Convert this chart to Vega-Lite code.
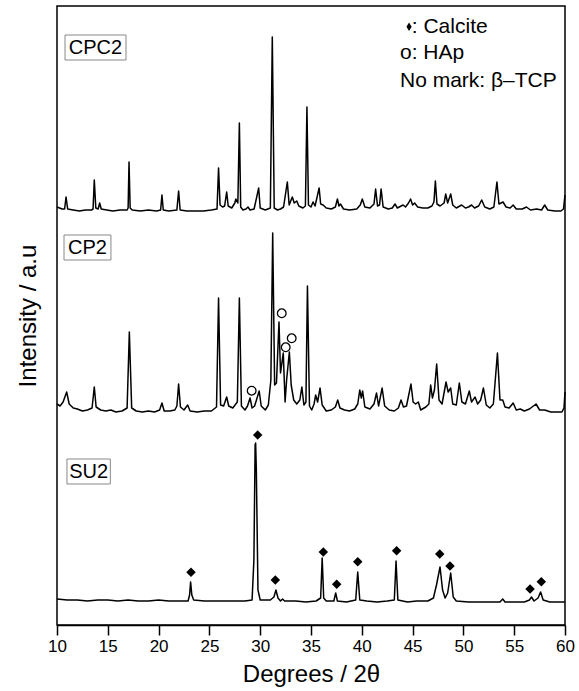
{
  "$schema": "https://vega.github.io/schema/vega-lite/v6.json",
  "width": 508,
  "height": 619,
  "autosize": "none",
  "padding": {"left": 57, "top": 6, "right": 14, "bottom": 66},
  "background": "white",
  "datasets": {
    "traces": [
      {"s":"CPC2","x":10.0,"y":418},{"s":"CPC2","x":10.5,"y":416},{"s":"CPC2","x":10.75,"y":416},{"s":"CPC2","x":10.89,"y":428},{"s":"CPC2","x":11.05,"y":416},{"s":"CPC2","x":11.6,"y":415},{"s":"CPC2","x":12.2,"y":414},{"s":"CPC2","x":12.8,"y":415},{"s":"CPC2","x":13.4,"y":415},{"s":"CPC2","x":13.55,"y":416},{"s":"CPC2","x":13.67,"y":445},{"s":"CPC2","x":13.82,"y":417},{"s":"CPC2","x":14.05,"y":416},{"s":"CPC2","x":14.2,"y":422},{"s":"CPC2","x":14.35,"y":416},{"s":"CPC2","x":14.9,"y":415},{"s":"CPC2","x":15.5,"y":414},{"s":"CPC2","x":16.2,"y":415},{"s":"CPC2","x":16.9,"y":415},{"s":"CPC2","x":17.0,"y":417},{"s":"CPC2","x":17.09,"y":463},{"s":"CPC2","x":17.2,"y":417},{"s":"CPC2","x":17.4,"y":415},{"s":"CPC2","x":18.2,"y":414},{"s":"CPC2","x":19.0,"y":415},{"s":"CPC2","x":19.8,"y":414},{"s":"CPC2","x":20.2,"y":415},{"s":"CPC2","x":20.33,"y":430},{"s":"CPC2","x":20.46,"y":415},{"s":"CPC2","x":21.0,"y":414},{"s":"CPC2","x":21.8,"y":415},{"s":"CPC2","x":21.97,"y":434},{"s":"CPC2","x":22.12,"y":415},{"s":"CPC2","x":22.8,"y":414},{"s":"CPC2","x":23.6,"y":414},{"s":"CPC2","x":24.4,"y":414},{"s":"CPC2","x":25.2,"y":415},{"s":"CPC2","x":25.75,"y":416},{"s":"CPC2","x":25.9,"y":457},{"s":"CPC2","x":26.05,"y":420},{"s":"CPC2","x":26.3,"y":418},{"s":"CPC2","x":26.5,"y":419},{"s":"CPC2","x":26.7,"y":433},{"s":"CPC2","x":26.85,"y":419},{"s":"CPC2","x":27.2,"y":417},{"s":"CPC2","x":27.5,"y":422},{"s":"CPC2","x":27.6,"y":426},{"s":"CPC2","x":27.8,"y":422},{"s":"CPC2","x":27.95,"y":502},{"s":"CPC2","x":28.08,"y":418},{"s":"CPC2","x":28.3,"y":415},{"s":"CPC2","x":28.6,"y":416},{"s":"CPC2","x":28.8,"y":418},{"s":"CPC2","x":29.0,"y":415},{"s":"CPC2","x":29.4,"y":416},{"s":"CPC2","x":29.85,"y":437},{"s":"CPC2","x":30.0,"y":417},{"s":"CPC2","x":30.5,"y":415},{"s":"CPC2","x":31.0,"y":417},{"s":"CPC2","x":31.19,"y":588},{"s":"CPC2","x":31.38,"y":417},{"s":"CPC2","x":31.7,"y":415},{"s":"CPC2","x":32.0,"y":416},{"s":"CPC2","x":32.3,"y":418},{"s":"CPC2","x":32.67,"y":443},{"s":"CPC2","x":32.85,"y":420},{"s":"CPC2","x":33.16,"y":428},{"s":"CPC2","x":33.35,"y":422},{"s":"CPC2","x":33.6,"y":424},{"s":"CPC2","x":33.8,"y":419},{"s":"CPC2","x":34.2,"y":417},{"s":"CPC2","x":34.45,"y":419},{"s":"CPC2","x":34.6,"y":518},{"s":"CPC2","x":34.75,"y":420},{"s":"CPC2","x":35.0,"y":418},{"s":"CPC2","x":35.2,"y":423},{"s":"CPC2","x":35.4,"y":419},{"s":"CPC2","x":35.8,"y":437},{"s":"CPC2","x":35.95,"y":421},{"s":"CPC2","x":36.2,"y":420},{"s":"CPC2","x":36.5,"y":417},{"s":"CPC2","x":37.0,"y":416},{"s":"CPC2","x":37.4,"y":418},{"s":"CPC2","x":37.6,"y":426},{"s":"CPC2","x":37.75,"y":419},{"s":"CPC2","x":37.9,"y":421},{"s":"CPC2","x":38.2,"y":416},{"s":"CPC2","x":38.8,"y":415},{"s":"CPC2","x":39.5,"y":416},{"s":"CPC2","x":39.85,"y":420},{"s":"CPC2","x":40.05,"y":426},{"s":"CPC2","x":40.3,"y":418},{"s":"CPC2","x":40.8,"y":417},{"s":"CPC2","x":41.2,"y":421},{"s":"CPC2","x":41.36,"y":436},{"s":"CPC2","x":41.55,"y":419},{"s":"CPC2","x":41.75,"y":420},{"s":"CPC2","x":41.9,"y":436},{"s":"CPC2","x":42.1,"y":418},{"s":"CPC2","x":42.6,"y":416},{"s":"CPC2","x":43.0,"y":417},{"s":"CPC2","x":43.27,"y":421},{"s":"CPC2","x":43.5,"y":417},{"s":"CPC2","x":44.06,"y":420},{"s":"CPC2","x":44.3,"y":418},{"s":"CPC2","x":44.6,"y":422},{"s":"CPC2","x":44.8,"y":426},{"s":"CPC2","x":45.0,"y":420},{"s":"CPC2","x":45.2,"y":422},{"s":"CPC2","x":45.5,"y":418},{"s":"CPC2","x":46.0,"y":417},{"s":"CPC2","x":46.5,"y":417},{"s":"CPC2","x":46.9,"y":419},{"s":"CPC2","x":47.1,"y":423},{"s":"CPC2","x":47.24,"y":444},{"s":"CPC2","x":47.4,"y":421},{"s":"CPC2","x":47.7,"y":419},{"s":"CPC2","x":48.1,"y":422},{"s":"CPC2","x":48.26,"y":431},{"s":"CPC2","x":48.45,"y":422},{"s":"CPC2","x":48.75,"y":431},{"s":"CPC2","x":48.95,"y":420},{"s":"CPC2","x":49.3,"y":417},{"s":"CPC2","x":49.83,"y":420},{"s":"CPC2","x":50.2,"y":417},{"s":"CPC2","x":50.5,"y":418},{"s":"CPC2","x":50.8,"y":420},{"s":"CPC2","x":51.1,"y":417},{"s":"CPC2","x":51.5,"y":419},{"s":"CPC2","x":51.8,"y":425},{"s":"CPC2","x":52.1,"y":418},{"s":"CPC2","x":52.6,"y":416},{"s":"CPC2","x":53.0,"y":418},{"s":"CPC2","x":53.3,"y":443},{"s":"CPC2","x":53.5,"y":421},{"s":"CPC2","x":53.9,"y":423},{"s":"CPC2","x":54.2,"y":418},{"s":"CPC2","x":54.6,"y":417},{"s":"CPC2","x":54.9,"y":420},{"s":"CPC2","x":55.2,"y":416},{"s":"CPC2","x":55.8,"y":416},{"s":"CPC2","x":56.2,"y":418},{"s":"CPC2","x":56.6,"y":415},{"s":"CPC2","x":57.2,"y":416},{"s":"CPC2","x":57.7,"y":415},{"s":"CPC2","x":58.0,"y":420},{"s":"CPC2","x":58.3,"y":415},{"s":"CPC2","x":59.0,"y":414},{"s":"CPC2","x":59.6,"y":414},{"s":"CPC2","x":59.85,"y":416},{"s":"CPC2","x":60.0,"y":430},
      {"s":"CP2","x":10.0,"y":221},{"s":"CP2","x":10.3,"y":219},{"s":"CP2","x":10.6,"y":223},{"s":"CP2","x":10.95,"y":233},{"s":"CP2","x":11.2,"y":221},{"s":"CP2","x":11.6,"y":217},{"s":"CP2","x":12.0,"y":216},{"s":"CP2","x":12.5,"y":214},{"s":"CP2","x":13.0,"y":215},{"s":"CP2","x":13.45,"y":217},{"s":"CP2","x":13.67,"y":238},{"s":"CP2","x":13.85,"y":218},{"s":"CP2","x":14.3,"y":215},{"s":"CP2","x":14.8,"y":214},{"s":"CP2","x":15.3,"y":215},{"s":"CP2","x":15.8,"y":213},{"s":"CP2","x":16.4,"y":214},{"s":"CP2","x":16.9,"y":217},{"s":"CP2","x":17.12,"y":293},{"s":"CP2","x":17.35,"y":217},{"s":"CP2","x":17.8,"y":214},{"s":"CP2","x":18.4,"y":213},{"s":"CP2","x":19.0,"y":214},{"s":"CP2","x":19.6,"y":213},{"s":"CP2","x":20.1,"y":215},{"s":"CP2","x":20.33,"y":222},{"s":"CP2","x":20.55,"y":214},{"s":"CP2","x":21.1,"y":214},{"s":"CP2","x":21.6,"y":215},{"s":"CP2","x":21.8,"y":219},{"s":"CP2","x":21.97,"y":241},{"s":"CP2","x":22.15,"y":218},{"s":"CP2","x":22.5,"y":215},{"s":"CP2","x":22.86,"y":220},{"s":"CP2","x":23.1,"y":214},{"s":"CP2","x":23.8,"y":213},{"s":"CP2","x":24.5,"y":214},{"s":"CP2","x":25.2,"y":214},{"s":"CP2","x":25.7,"y":218},{"s":"CP2","x":25.9,"y":327},{"s":"CP2","x":26.1,"y":220},{"s":"CP2","x":26.4,"y":219},{"s":"CP2","x":26.7,"y":228},{"s":"CP2","x":26.9,"y":219},{"s":"CP2","x":27.3,"y":217},{"s":"CP2","x":27.75,"y":223},{"s":"CP2","x":27.95,"y":327},{"s":"CP2","x":28.15,"y":219},{"s":"CP2","x":28.5,"y":215},{"s":"CP2","x":28.75,"y":219},{"s":"CP2","x":29.0,"y":227},{"s":"CP2","x":29.2,"y":217},{"s":"CP2","x":29.45,"y":219},{"s":"CP2","x":29.9,"y":234},{"s":"CP2","x":30.1,"y":219},{"s":"CP2","x":30.5,"y":215},{"s":"CP2","x":30.8,"y":220},{"s":"CP2","x":31.05,"y":245},{"s":"CP2","x":31.23,"y":392},{"s":"CP2","x":31.42,"y":240},{"s":"CP2","x":31.6,"y":242},{"s":"CP2","x":31.85,"y":303},{"s":"CP2","x":32.0,"y":252},{"s":"CP2","x":32.27,"y":272},{"s":"CP2","x":32.45,"y":223},{"s":"CP2","x":32.6,"y":245},{"s":"CP2","x":32.87,"y":273},{"s":"CP2","x":33.05,"y":240},{"s":"CP2","x":33.3,"y":225},{"s":"CP2","x":33.6,"y":221},{"s":"CP2","x":33.9,"y":225},{"s":"CP2","x":34.1,"y":238},{"s":"CP2","x":34.3,"y":220},{"s":"CP2","x":34.5,"y":223},{"s":"CP2","x":34.65,"y":339},{"s":"CP2","x":34.85,"y":219},{"s":"CP2","x":35.07,"y":215},{"s":"CP2","x":35.3,"y":221},{"s":"CP2","x":35.46,"y":230},{"s":"CP2","x":35.65,"y":223},{"s":"CP2","x":35.89,"y":237},{"s":"CP2","x":36.1,"y":220},{"s":"CP2","x":36.5,"y":214},{"s":"CP2","x":37.0,"y":215},{"s":"CP2","x":37.4,"y":218},{"s":"CP2","x":37.63,"y":225},{"s":"CP2","x":37.85,"y":217},{"s":"CP2","x":38.3,"y":215},{"s":"CP2","x":38.8,"y":214},{"s":"CP2","x":39.3,"y":216},{"s":"CP2","x":39.6,"y":221},{"s":"CP2","x":39.8,"y":235},{"s":"CP2","x":39.95,"y":227},{"s":"CP2","x":40.08,"y":234},{"s":"CP2","x":40.3,"y":218},{"s":"CP2","x":40.8,"y":216},{"s":"CP2","x":41.2,"y":221},{"s":"CP2","x":41.45,"y":232},{"s":"CP2","x":41.65,"y":219},{"s":"CP2","x":42.0,"y":237},{"s":"CP2","x":42.25,"y":219},{"s":"CP2","x":42.7,"y":215},{"s":"CP2","x":43.2,"y":214},{"s":"CP2","x":43.6,"y":217},{"s":"CP2","x":43.86,"y":225},{"s":"CP2","x":44.1,"y":218},{"s":"CP2","x":44.4,"y":219},{"s":"CP2","x":44.84,"y":241},{"s":"CP2","x":45.05,"y":223},{"s":"CP2","x":45.3,"y":221},{"s":"CP2","x":45.56,"y":223},{"s":"CP2","x":45.8,"y":215},{"s":"CP2","x":46.3,"y":218},{"s":"CP2","x":46.6,"y":221},{"s":"CP2","x":46.78,"y":240},{"s":"CP2","x":46.95,"y":227},{"s":"CP2","x":47.15,"y":235},{"s":"CP2","x":47.37,"y":261},{"s":"CP2","x":47.6,"y":225},{"s":"CP2","x":47.9,"y":221},{"s":"CP2","x":48.29,"y":243},{"s":"CP2","x":48.5,"y":233},{"s":"CP2","x":48.75,"y":237},{"s":"CP2","x":48.95,"y":221},{"s":"CP2","x":49.3,"y":220},{"s":"CP2","x":49.6,"y":242},{"s":"CP2","x":49.85,"y":223},{"s":"CP2","x":50.2,"y":221},{"s":"CP2","x":50.58,"y":234},{"s":"CP2","x":50.8,"y":223},{"s":"CP2","x":51.15,"y":228},{"s":"CP2","x":51.4,"y":221},{"s":"CP2","x":51.7,"y":225},{"s":"CP2","x":51.97,"y":237},{"s":"CP2","x":52.25,"y":220},{"s":"CP2","x":52.6,"y":217},{"s":"CP2","x":52.95,"y":221},{"s":"CP2","x":53.35,"y":272},{"s":"CP2","x":53.6,"y":225},{"s":"CP2","x":53.87,"y":225},{"s":"CP2","x":54.1,"y":218},{"s":"CP2","x":54.5,"y":217},{"s":"CP2","x":54.9,"y":222},{"s":"CP2","x":55.2,"y":215},{"s":"CP2","x":55.6,"y":216},{"s":"CP2","x":56.0,"y":214},{"s":"CP2","x":56.5,"y":216},{"s":"CP2","x":57.15,"y":221},{"s":"CP2","x":57.5,"y":215},{"s":"CP2","x":58.0,"y":215},{"s":"CP2","x":58.6,"y":213},{"s":"CP2","x":59.2,"y":213},{"s":"CP2","x":59.7,"y":213},{"s":"CP2","x":59.9,"y":217},{"s":"CP2","x":60.0,"y":233},
      {"s":"SU2","x":10.0,"y":26},{"s":"SU2","x":11.0,"y":25},{"s":"SU2","x":12.0,"y":25},{"s":"SU2","x":13.0,"y":24},{"s":"SU2","x":14.0,"y":25},{"s":"SU2","x":15.0,"y":25},{"s":"SU2","x":16.0,"y":24},{"s":"SU2","x":17.0,"y":25},{"s":"SU2","x":18.0,"y":24},{"s":"SU2","x":19.0,"y":24},{"s":"SU2","x":20.0,"y":25},{"s":"SU2","x":21.0,"y":24},{"s":"SU2","x":22.0,"y":24},{"s":"SU2","x":22.9,"y":24},{"s":"SU2","x":23.05,"y":30},{"s":"SU2","x":23.15,"y":43},{"s":"SU2","x":23.27,"y":30},{"s":"SU2","x":23.45,"y":25},{"s":"SU2","x":24.5,"y":24},{"s":"SU2","x":25.5,"y":24},{"s":"SU2","x":26.5,"y":24},{"s":"SU2","x":27.5,"y":24},{"s":"SU2","x":28.5,"y":24},{"s":"SU2","x":29.2,"y":25},{"s":"SU2","x":29.38,"y":65},{"s":"SU2","x":29.5,"y":180},{"s":"SU2","x":29.55,"y":182},{"s":"SU2","x":29.62,"y":155},{"s":"SU2","x":29.78,"y":35},{"s":"SU2","x":30.0,"y":25},{"s":"SU2","x":31.0,"y":25},{"s":"SU2","x":31.35,"y":28},{"s":"SU2","x":31.55,"y":35},{"s":"SU2","x":31.75,"y":27},{"s":"SU2","x":32.0,"y":24},{"s":"SU2","x":32.2,"y":26},{"s":"SU2","x":32.4,"y":24},{"s":"SU2","x":33.5,"y":24},{"s":"SU2","x":34.5,"y":23},{"s":"SU2","x":35.5,"y":24},{"s":"SU2","x":35.95,"y":27},{"s":"SU2","x":36.1,"y":67},{"s":"SU2","x":36.25,"y":27},{"s":"SU2","x":36.5,"y":24},{"s":"SU2","x":37.25,"y":24},{"s":"SU2","x":37.43,"y":32},{"s":"SU2","x":37.6,"y":24},{"s":"SU2","x":38.5,"y":23},{"s":"SU2","x":39.4,"y":25},{"s":"SU2","x":39.6,"y":53},{"s":"SU2","x":39.8,"y":25},{"s":"SU2","x":40.5,"y":24},{"s":"SU2","x":41.5,"y":23},{"s":"SU2","x":42.5,"y":24},{"s":"SU2","x":43.2,"y":25},{"s":"SU2","x":43.37,"y":64},{"s":"SU2","x":43.55,"y":25},{"s":"SU2","x":44.5,"y":23},{"s":"SU2","x":45.4,"y":24},{"s":"SU2","x":46.5,"y":24},{"s":"SU2","x":47.05,"y":27},{"s":"SU2","x":47.35,"y":40},{"s":"SU2","x":47.7,"y":58},{"s":"SU2","x":47.95,"y":35},{"s":"SU2","x":48.2,"y":27},{"s":"SU2","x":48.45,"y":32},{"s":"SU2","x":48.75,"y":52},{"s":"SU2","x":49.0,"y":28},{"s":"SU2","x":49.3,"y":24},{"s":"SU2","x":50.5,"y":23},{"s":"SU2","x":51.5,"y":23},{"s":"SU2","x":52.5,"y":23},{"s":"SU2","x":53.6,"y":23},{"s":"SU2","x":53.87,"y":26},{"s":"SU2","x":54.1,"y":23},{"s":"SU2","x":55.0,"y":23},{"s":"SU2","x":56.0,"y":23},{"s":"SU2","x":56.5,"y":25},{"s":"SU2","x":56.7,"y":28},{"s":"SU2","x":56.95,"y":24},{"s":"SU2","x":57.35,"y":27},{"s":"SU2","x":57.6,"y":33},{"s":"SU2","x":57.85,"y":25},{"s":"SU2","x":58.5,"y":23},{"s":"SU2","x":59.5,"y":23},{"s":"SU2","x":60.0,"y":23}
    ],
    "diamonds": [
      {"x":23.19,"y":52.7},{"x":29.75,"y":190},{"x":31.49,"y":45},{"x":36.21,"y":73},{"x":37.53,"y":40.7},{"x":39.6,"y":63.3},{"x":43.43,"y":74.3},{"x":47.67,"y":71},{"x":48.68,"y":59},{"x":56.56,"y":36},{"x":57.67,"y":43.3}
    ],
    "circles": [
      {"x":29.16,"y":234.3},{"x":32.12,"y":311.7},{"x":32.51,"y":277.7},{"x":33.1,"y":286.7}
    ],
    "boxes": [
      {"t":"CPC2","x":10.79,"x2":16.79,"y":590,"y2":565,"cx":13.79,"cy":577.5},
      {"t":"CP2","x":10.69,"x2":15.31,"y":390,"y2":365,"cx":13.0,"cy":377.5},
      {"t":"SU2","x":10.98,"x2":15.25,"y":166,"y2":141,"cx":13.12,"cy":153.5}
    ],
    "legendMark": [{"x":44.65,"y":598.3}],
    "legendText": [
      {"t":": Calcite","x":44.92,"y":598.3},
      {"t":"o: HAp","x":43.76,"y":571.7},
      {"t":"No mark: β–TCP","x":43.76,"y":544}
    ]
  },
  "encoding": {
    "x": {
      "field": "x", "type": "quantitative",
      "scale": {"domain": [10, 60], "nice": false, "zero": false},
      "axis": {
        "title": "Degrees / 2θ",
        "values": [10, 15, 20, 25, 30, 35, 40, 45, 50, 55, 60],
        "grid": false,
        "tickSize": 10, "tickWidth": 1.5, "tickColor": "black",
        "domainColor": "black", "domainWidth": 1.5,
        "labelFontSize": 17, "labelColor": "black", "labelPadding": 3, "labelFlush": false,
        "titleFontSize": 24, "titleFontWeight": "normal", "titleColor": "black", "titlePadding": 8
      }
    },
    "y": {
      "field": "y", "type": "quantitative",
      "scale": {"domain": [0, 619], "nice": false, "zero": false},
      "axis": {
        "title": "Intensity / a.u",
        "grid": false, "ticks": false, "labels": false, "domain": false,
        "titleFontSize": 24, "titleFontWeight": "normal", "titleColor": "black", "titlePadding": 17
      }
    }
  },
  "layer": [
    {
      "data": {"name": "traces"},
      "mark": {"type": "line", "color": "black", "strokeWidth": 1.5, "strokeJoin": "round"},
      "encoding": {"detail": {"field": "s"}}
    },
    {
      "data": {"name": "diamonds"},
      "mark": {"type": "point", "shape": "diamond", "filled": true, "color": "black", "size": 90, "opacity": 1}
    },
    {
      "data": {"name": "circles"},
      "mark": {"type": "point", "shape": "circle", "filled": false, "color": "black", "size": 75, "strokeWidth": 1.3, "opacity": 1}
    },
    {
      "data": {"name": "boxes"},
      "mark": {"type": "rect", "fill": "white", "stroke": "#888888", "strokeWidth": 1},
      "encoding": {"x2": {"field": "x2"}, "y2": {"field": "y2"}}
    },
    {
      "data": {"name": "boxes"},
      "mark": {"type": "text", "fontSize": 20, "color": "black", "align": "center", "baseline": "middle"},
      "encoding": {
        "x": {"field": "cx", "type": "quantitative"},
        "y": {"field": "cy", "type": "quantitative"},
        "text": {"field": "t"}
      }
    },
    {
      "data": {"name": "legendMark"},
      "mark": {"type": "point", "shape": "M0,-1L0.62,0L0,1L-0.62,0Z", "filled": true, "color": "black", "size": 70, "opacity": 1}
    },
    {
      "data": {"name": "legendText"},
      "mark": {"type": "text", "fontSize": 21, "color": "black", "align": "left", "baseline": "middle"},
      "encoding": {"text": {"field": "t"}}
    }
  ],
  "config": {
    "font": "Liberation Sans",
    "view": {"stroke": "black", "strokeWidth": 1.5}
  }
}
